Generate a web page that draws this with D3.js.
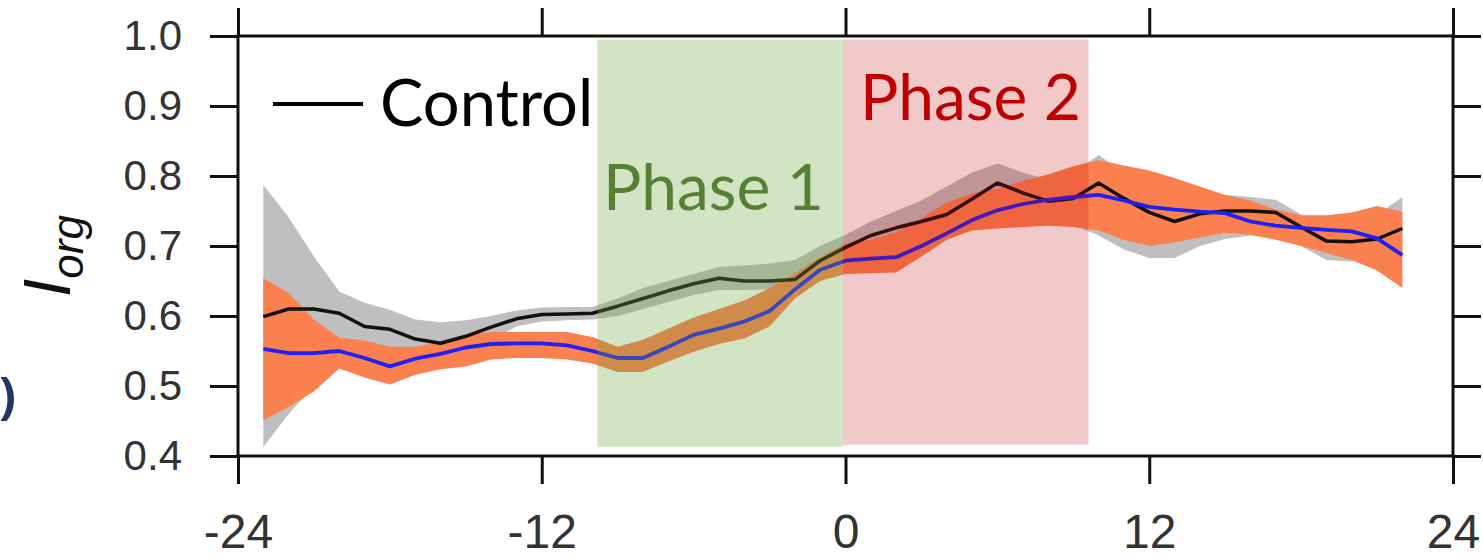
<!DOCTYPE html>
<html>
<head>
<meta charset="utf-8">
<script src="https://cdn.jsdelivr.net/npm/d3@7"></script>
<style>
  html, body { margin: 0; padding: 0; background: #fff; }
  svg { display: block; }
</style>
</head>
<body>
<svg id="chart" width="1483" height="559"></svg>
<script>
// Hours relative to event onset
const hours = [-23,-22,-21,-20,-19,-18,-17,-16,-15,-14,-13,-12,-11,-10,-9,-8,-7,-6,-5,-4,-3,-2,-1,
               0,1,2,3,4,5,6,7,8,9,10,11,12,13,14,15,16,17,18,19,20,21,22];

// Control run: mean and spread
const controlMean = [0.599,0.610,0.610,0.604,0.585,0.581,0.567,0.561,0.571,0.584,0.596,0.602,0.603,0.604,0.614,0.625,0.636,0.646,0.654,0.650,0.650,0.652,0.679,
                     0.698,0.715,0.726,0.735,0.745,0.767,0.790,0.776,0.764,0.768,0.790,0.768,0.748,0.735,0.746,0.750,0.750,0.748,0.727,0.707,0.706,0.710,0.725];
const controlLow  = [0.413,0.460,0.500,0.530,0.545,0.550,0.550,0.550,0.555,0.565,0.585,0.592,0.594,0.595,0.600,0.610,0.620,0.630,0.637,0.637,0.638,0.640,0.660,
                     0.680,0.695,0.705,0.710,0.720,0.730,0.745,0.740,0.735,0.730,0.715,0.695,0.683,0.683,0.700,0.710,0.715,0.710,0.700,0.680,0.678,0.690,0.690];
const controlHigh = [0.787,0.741,0.685,0.635,0.619,0.609,0.595,0.591,0.594,0.600,0.608,0.612,0.613,0.613,0.625,0.640,0.650,0.660,0.670,0.672,0.675,0.680,0.700,
                     0.716,0.735,0.750,0.765,0.785,0.805,0.818,0.805,0.795,0.805,0.830,0.805,0.785,0.775,0.772,0.773,0.770,0.766,0.745,0.735,0.735,0.745,0.770];

// Perturbed run: mean and spread
const perturbMean = [0.553,0.547,0.547,0.550,0.540,0.528,0.539,0.546,0.555,0.560,0.561,0.561,0.558,0.550,0.540,0.540,0.556,0.573,0.582,0.592,0.607,0.638,0.666,
                     0.679,0.682,0.684,0.700,0.718,0.737,0.751,0.760,0.766,0.770,0.773,0.765,0.756,0.752,0.749,0.747,0.735,0.729,0.726,0.723,0.721,0.711,0.687];
const perturbLow  = [0.451,0.470,0.492,0.525,0.512,0.502,0.516,0.524,0.528,0.538,0.540,0.540,0.538,0.532,0.520,0.520,0.535,0.549,0.560,0.568,0.585,0.625,0.650,
                     0.660,0.661,0.662,0.685,0.709,0.722,0.725,0.727,0.729,0.727,0.722,0.709,0.700,0.705,0.712,0.719,0.716,0.709,0.700,0.690,0.680,0.665,0.640];
const perturbHigh = [0.654,0.633,0.595,0.569,0.565,0.556,0.556,0.562,0.573,0.577,0.577,0.577,0.577,0.570,0.556,0.566,0.582,0.598,0.610,0.622,0.640,0.661,0.684,
                     0.704,0.709,0.720,0.740,0.762,0.775,0.782,0.793,0.802,0.814,0.823,0.815,0.808,0.797,0.785,0.773,0.765,0.752,0.744,0.744,0.748,0.757,0.749];

// Axis ticks
const xTicks = [-24, -12, 0, 12, 24];
const yTicks = [0.4, 0.5, 0.6, 0.7, 0.8, 0.9, 1.0];

// Highlighted phases
const phaseNames  = ["Phase 1", "Phase 2"];
const phaseStart  = [-9.8, -0.1];
const phaseEnd    = [-0.1, 9.6];
const phaseTop    = [0.995, 0.995];
const phaseBottom = [0.413, 0.416];

const legendLabels = ["Control"];

const svg = d3.select("#chart");
const plot = { left: 238, right: 1453, top: 36, bottom: 456 };

const x = d3.scaleLinear().domain([-24, 24]).range([plot.left, plot.right]);
const y = d3.scaleLinear().domain([0.4, 1.0]).range([plot.bottom, plot.top]);

const rows = hours.map((h, i) => ({
  h,
  cm: controlMean[i], cl: controlLow[i], ch: controlHigh[i],
  pm: perturbMean[i], pl: perturbLow[i], ph: perturbHigh[i]
}));

const g = svg.append("g");

// Spread bands
g.append("path")
  .datum(rows)
  .attr("fill", "#bfbfbf")
  .attr("d", d3.area().x(d => x(d.h)).y0(d => y(d.cl)).y1(d => y(d.ch)));

g.append("path")
  .datum(rows)
  .attr("fill", "#fb8050")
  .attr("d", d3.area().x(d => x(d.h)).y0(d => y(d.pl)).y1(d => y(d.ph)));

// Mean lines
g.append("path")
  .datum(rows)
  .attr("fill", "none")
  .attr("stroke", "#111")
  .attr("stroke-width", 3.5)
  .attr("stroke-linejoin", "round")
  .attr("d", d3.line().x(d => x(d.h)).y(d => y(d.cm)));

g.append("path")
  .datum(rows)
  .attr("fill", "none")
  .attr("stroke", "#2020f0")
  .attr("stroke-width", 3.8)
  .attr("stroke-linejoin", "round")
  .attr("d", d3.line().x(d => x(d.h)).y(d => y(d.pm)));

// Phase shading
const phaseFill = ["rgba(108,165,62,0.30)", "rgba(192,0,0,0.21)"];
g.selectAll("rect.phase")
  .data(phaseNames)
  .join("rect")
  .attr("class", "phase")
  .attr("x", (d, i) => x(phaseStart[i]))
  .attr("width", (d, i) => x(phaseEnd[i]) - x(phaseStart[i]))
  .attr("y", (d, i) => y(phaseTop[i]))
  .attr("height", (d, i) => y(phaseBottom[i]) - y(phaseTop[i]))
  .attr("fill", (d, i) => phaseFill[i]);

// Phase labels
const phaseLabelPos = [{ x: 603, y: 210, c: "#548235" }, { x: 860, y: 120, c: "#c00000" }];
svg.selectAll("text.phase")
  .data(phaseNames)
  .join("text")
  .attr("class", "phase")
  .attr("x", (d, i) => phaseLabelPos[i].x)
  .attr("y", (d, i) => phaseLabelPos[i].y)
  .attr("fill", (d, i) => phaseLabelPos[i].c)
  .attr("font-family", "Lato, 'Open Sans', sans-serif")
  .attr("font-size", 64)
  .text(d => d);

// Legend
svg.append("line")
  .attr("x1", 273).attr("x2", 363)
  .attr("y1", 104).attr("y2", 104)
  .attr("stroke", "#000").attr("stroke-width", 4);
svg.append("text")
  .attr("x", 380).attr("y", 126)
  .attr("font-family", "Lato, 'Open Sans', sans-serif")
  .attr("font-size", 65)
  .attr("fill", "#000")
  .text(legendLabels[0]);

// Frame with outward ticks on all four sides
const frame = svg.append("g");
const tickLen = 28;
const axisStyle = sel => {
  sel.select(".domain").remove();
  sel.selectAll(".tick line").attr("stroke", "#111").attr("stroke-width", 3);
  sel.selectAll(".tick text")
    .attr("fill", "#333")
    .attr("font-family", "'Liberation Sans', Arial, sans-serif");
};

frame.append("g")
  .attr("transform", `translate(0,${plot.bottom})`)
  .call(d3.axisBottom(x).tickValues(xTicks).tickFormat(d => String(d)).tickSize(tickLen).tickPadding(30))
  .call(axisStyle)
  .call(s => s.selectAll(".tick text").attr("font-size", 48));

frame.append("g")
  .attr("transform", `translate(0,${plot.top})`)
  .call(d3.axisTop(x).tickValues(xTicks).tickFormat("").tickSize(tickLen))
  .call(axisStyle);

frame.append("g")
  .attr("transform", `translate(${plot.left},0)`)
  .call(d3.axisLeft(y).tickValues(yTicks).tickFormat(d3.format(".1f")).tickSize(tickLen).tickPadding(28))
  .call(axisStyle)
  .call(s => s.selectAll(".tick text").attr("font-size", 42));

frame.append("g")
  .attr("transform", `translate(${plot.right},0)`)
  .call(d3.axisRight(y).tickValues(yTicks).tickFormat("").tickSize(tickLen))
  .call(axisStyle);

frame.append("rect")
  .attr("x", plot.left).attr("y", plot.top)
  .attr("width", plot.right - plot.left)
  .attr("height", plot.bottom - plot.top)
  .attr("fill", "none")
  .attr("stroke", "#111")
  .attr("stroke-width", 3);

// Y-axis title: I with subscript "org"
const yTitle = svg.append("text")
  .attr("transform", `translate(70,256) rotate(-90)`)
  .attr("text-anchor", "middle")
  .attr("font-family", "'Liberation Sans', Arial, sans-serif")
  .attr("font-style", "italic")
  .attr("fill", "#111");
yTitle.append("tspan").attr("font-size", 66).text("I");
yTitle.append("tspan").attr("font-size", 44).attr("dy", 13).text("org");

// Fragment of a neighbouring panel label at the left edge
svg.append("text")
  .attr("x", -1).attr("y", 413)
  .attr("text-anchor", "start")
  .attr("font-family", "'Open Sans', sans-serif")
  .attr("font-weight", "bold")
  .attr("font-size", 50)
  .attr("fill", "#1f3864")
  .text(")");
</script>
</body>
</html>
